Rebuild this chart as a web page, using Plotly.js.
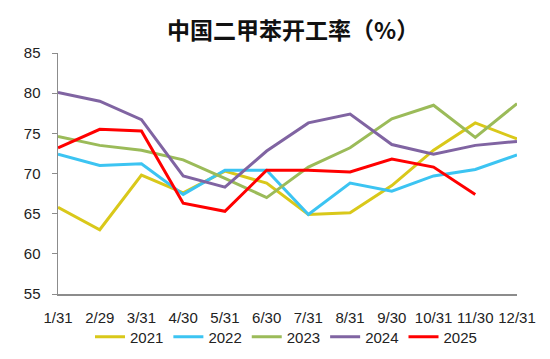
<!DOCTYPE html>
<html>
<head>
<meta charset="utf-8">
<script src="https://cdn.plot.ly/plotly-3.0.1.min.js"></script>
<style>html,body{margin:0;padding:0;background:#fff}#chart{width:550px;height:359px}</style>
</head>
<body>
<div id="chart"></div>
<script>
const categories = ["1/31","2/29","3/31","4/30","5/31","6/30","7/31","8/31","9/30","10/31","11/30","12/31"];
const s2021 = [65.8, 63.0, 69.8, 67.6, 70.3, 68.8, 64.9, 65.1, 68.5, 72.9, 76.3, 74.3];
const s2022 = [72.4, 71.0, 71.2, 67.4, 70.4, 70.4, 64.9, 68.8, 67.8, 69.7, 70.5, 72.3];
const s2023 = [74.6, 73.5, 72.9, 71.7, 69.4, 67.0, 70.8, 73.2, 76.8, 78.5, 74.5, 78.7];
const s2024 = [80.1, 79.0, 76.7, 69.7, 68.3, 72.8, 76.3, 77.4, 73.6, 72.4, 73.5, 74.0];
const s2025 = [73.2, 75.5, 75.3, 66.3, 65.3, 70.4, 70.4, 70.2, 71.8, 70.8, 67.4];
const seriesNames = ["2021","2022","2023","2024","2025"];
const seriesData = [s2021, s2022, s2023, s2024, s2025];
const colors = ["#D9C81A","#3CC4F2","#9BBB59","#8064A2","#FF0000"];

const traces = seriesData.map((d, i) => ({
  type: "scatter", mode: "lines", name: seriesNames[i],
  x: categories.slice(0, d.length), y: d,
  line: {color: colors[i], width: 3}
}));

const layout = {
  width: 550, height: 359,
  margin: {l: 58, r: 33, t: 53, b: 65, autoexpand: false},
  paper_bgcolor: "#fff", plot_bgcolor: "#fff",
  font: {family: "Liberation Sans, Arial, sans-serif", size: 15, color: "#222"},
  title: {text: "<b>中国二甲苯开工率（%）</b>", font: {family: "Noto Sans CJK SC", size: 23, color: "#111"},
          x: 0.533, xanchor: "center", y: 0.914, yanchor: "middle", xref: "container", yref: "container"},
  xaxis: {type: "category", range: [0, 11], showline: true, linecolor: "#8c8c8c", linewidth: 1.5,
          showgrid: false, zeroline: false, ticks: "", ticklabelstandoff: 9, tickangle: 0,
          tickfont: {size: 15}, fixedrange: true, automargin: false},
  yaxis: {range: [55, 85], dtick: 5, showline: true, linecolor: "#8c8c8c", linewidth: 1.5,
          showgrid: false, zeroline: false, ticks: "outside", ticklen: 5, tickcolor: "#8c8c8c",
          ticklabelstandoff: 8, tickfont: {size: 15}, fixedrange: true, automargin: false},
  showlegend: true,
  legend: {orientation: "h", xref: "container", yref: "container", x: 0.52, xanchor: "center",
           y: 0.061, yanchor: "middle",
           bgcolor: "rgba(0,0,0,0)", font: {size: 15}, itemwidth: 30, tracegroupgap: 0}
};
Plotly.newPlot("chart", traces, layout, {displayModeBar: false, staticPlot: true});
</script>
</body>
</html>
